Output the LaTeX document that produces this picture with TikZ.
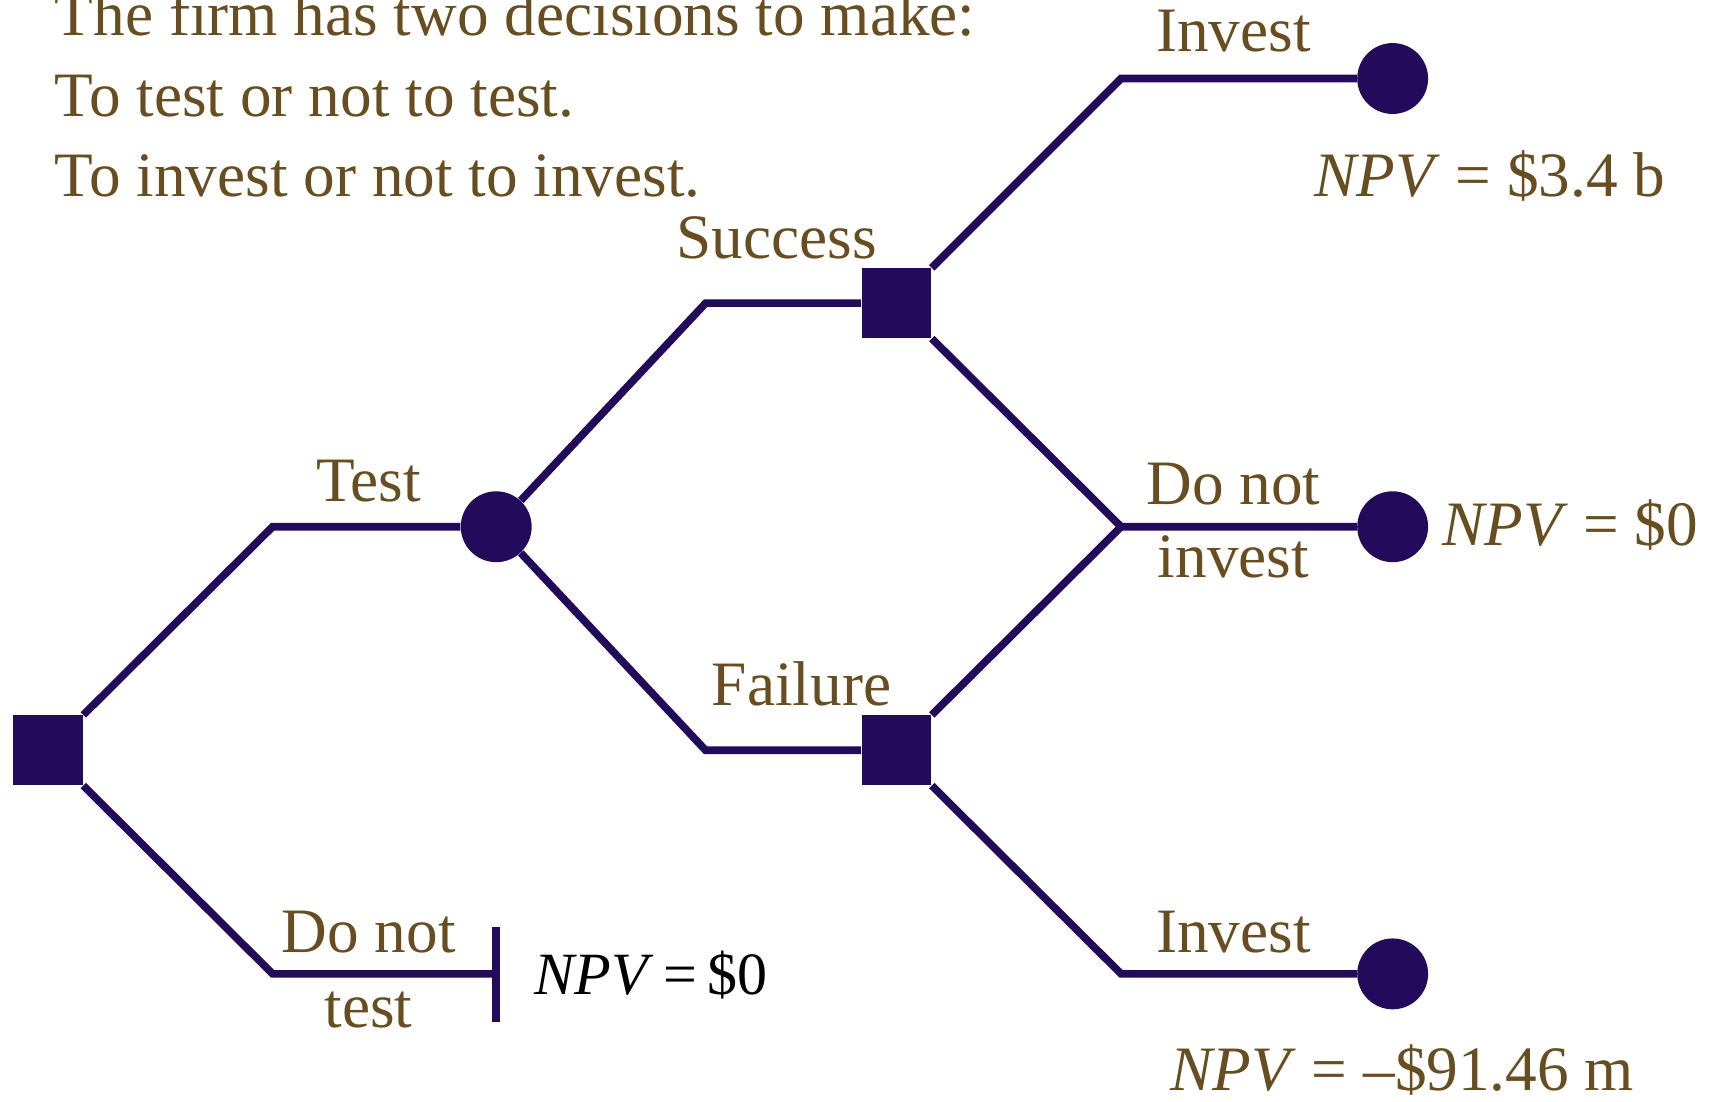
\documentclass[tikz,border=0pt]{standalone}
\usepackage{fontspec}
\setmainfont{Liberation Serif}
\definecolor{treeblue}{RGB}{33,11,90}
\definecolor{labelbrown}{RGB}{103,77,32}
\begin{document}
\begin{tikzpicture}[x=0.5pt,y=-0.5pt,
  branch/.style={draw=treeblue,line width=3.5pt},
  decision/.style={rectangle,fill=treeblue,minimum size=32pt,inner sep=0pt},
  chance/.style={circle,fill=treeblue,minimum size=32.5pt,inner sep=0pt},
  lbl/.style={text=labelbrown,font=\fontsize{29}{35}\selectfont,inner sep=0pt,anchor=base},
  note/.style={lbl,anchor=base west}]
\useasboundingbox (0,0) rectangle (1568,1010);

% heading
\node[note] (h1) at (50,33) {The firm has two decisions to make:};
\node[note] (h2) at (50,107) {To test or not to test.};
\node[note] (h3) at (50,180) {To invest or not to invest.};

% nodes of the tree
\node[decision] (root) at (44,688) {};
\node[chance] (exp) at (455,483) {};
\node[decision] (dsucc) at (822,278) {};
\node[decision] (dfail) at (822,688) {};
\node[chance] (e1) at (1277,72) {};
\node[chance] (e2) at (1277,483) {};
\node[chance] (e3) at (1277,893) {};

% bends of the branches
\coordinate (b1) at (250,483);
\coordinate (b2) at (250,893);
\coordinate (b3) at (647,278);
\coordinate (b4) at (647,688);
\coordinate (b5) at (1028,72);
\coordinate (b6) at (1028,483);
\coordinate (b7) at (1028,893);
\coordinate (stop) at (455,893);
\coordinate (stopt) at (455,850);
\coordinate (stopb) at (455,937);

% branches
\draw[branch] (root.north east) -- (b1) -- (exp);
\draw[branch] (root.south east) -- (b2) -- (stop);
\draw[branch] (stopt) -- (stopb);
\draw[branch] (exp) -- (b3) -- (dsucc);
\draw[branch] (exp) -- (b4) -- (dfail);
\draw[branch] (dsucc.north east) -- (b5) -- (e1);
\draw[branch] (dsucc.south east) -- (b6) -- (e2);
\draw[branch] (dfail.north east) -- (b6);
\draw[branch] (dfail.south east) -- (b7) -- (e3);

% branch labels
\node[lbl] (ltest) at (338,460) {Test};
\node[lbl] (ldnt1) at (338,873) {Do not};
\node[lbl] (ldnt2) at (338,942) {test};
\node[lbl] (lsucc) at (712,237) {Success};
\node[lbl] (lfail) at (735,647) {Failure};
\node[lbl] (linv1) at (1131,47) {Invest};
\node[lbl] (ldni1) at (1131,463) {Do not};
\node[lbl] (ldni2) at (1131,530) {invest};
\node[lbl] (linv2) at (1131,873) {Invest};

% payoffs
\node[note,text=black,font=\fontsize{27.5}{33}\selectfont] (v0) at (490,912) {\textit{NPV}\,=\,\$0};
\node[note] (v1) at (1205,180) {\textit{NPV} = \$3.4 b};
\node[note] (v2) at (1322,500) {\textit{NPV} = \$0};
\node[note] (v3) at (1073,1000) {\textit{NPV} = –\$91.46 m};
\end{tikzpicture}
\end{document}
